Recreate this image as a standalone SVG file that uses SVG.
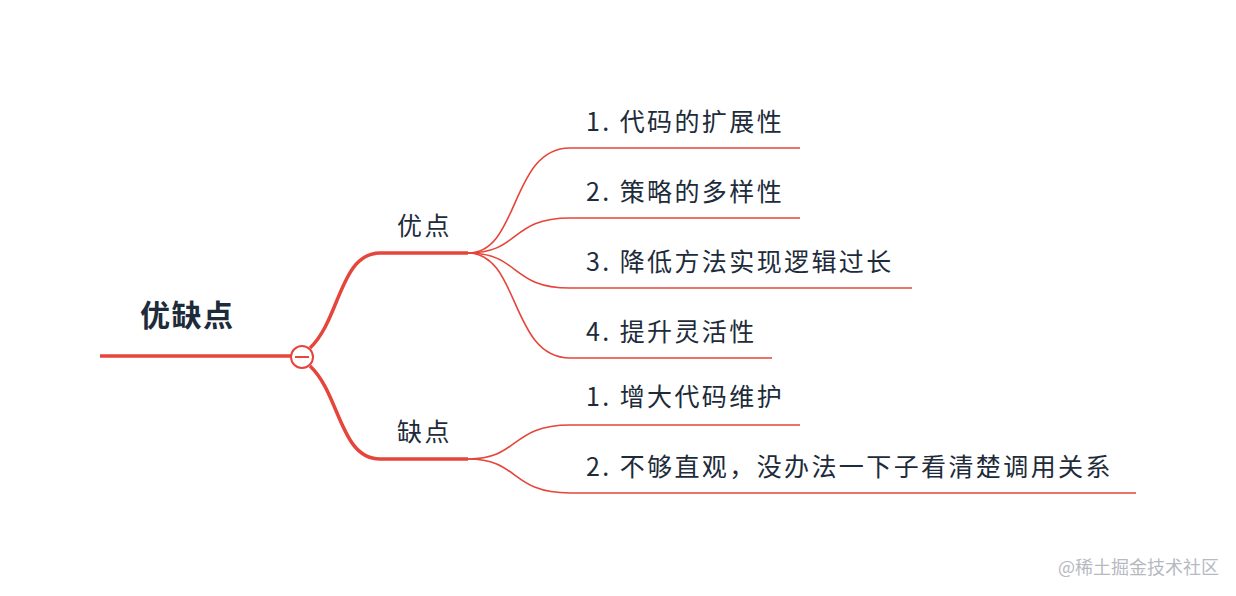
<svg xmlns="http://www.w3.org/2000/svg" width="1236" height="596" viewBox="0 0 1236 596">
<style>
text{font-family:"Noto Sans CJK SC","Noto Sans",sans-serif;fill:#1d2b3a}
.c{font-size:25px;letter-spacing:2.4px}
.m{fill:none;stroke:#e5453a;stroke-width:3.5}
.t{fill:none;stroke:#e5453a;stroke-width:1.6}
</style>
<rect width="1236" height="596" fill="#fff"/>
<g id="connectors">
<path class="m" d="M100 356 H292"/>
<path class="m" d="M310 348 C340 320 340 253 380 253 H468"/>
<path class="m" d="M310 366 C340 394 340 459 380 459 H468"/>
<path class="t" d="M468 253 C520 253 510 148 570 148 H800"/>
<path class="t" d="M468 253 C520 253 510 218 570 218 H800"/>
<path class="t" d="M468 253 C520 253 510 288 570 288 H912"/>
<path class="t" d="M468 253 C520 253 510 358 570 358 H772"/>
<path class="t" d="M468 459 C520 459 510 425 570 425 H800"/>
<path class="t" d="M468 459 C520 459 510 493 570 493 H1136"/>
</g>
<g id="root"><text x="140" y="326" font-size="30" font-weight="bold" letter-spacing="1.5">优缺点</text>
<circle cx="302" cy="357" r="11" fill="#fff" stroke="#e5453a" stroke-width="2"/>
<path d="M295 357 H309" stroke="#e5453a" stroke-width="2"/></g>
<g id="pro"><text class="c" x="397" y="235">优点</text></g>
<g id="con"><text class="c" x="397" y="441">缺点</text></g>
<g id="p1"><text class="c" x="586" y="131">1. 代码的扩展性</text></g>
<g id="p2"><text class="c" x="586" y="201">2. 策略的多样性</text></g>
<g id="p3"><text class="c" x="586" y="271">3. 降低方法实现逻辑过长</text></g>
<g id="p4"><text class="c" x="586" y="341">4. 提升灵活性</text></g>
<g id="c1"><text class="c" x="586" y="406">1. 增大代码维护</text></g>
<g id="c2"><text class="c" x="586" y="476">2. 不够直观，没办法一下子看清楚调用关系</text></g>
<text x="1058" y="574" font-size="18" style="fill:#b6b9bf">@稀土掘金技术社区</text>
</svg>
